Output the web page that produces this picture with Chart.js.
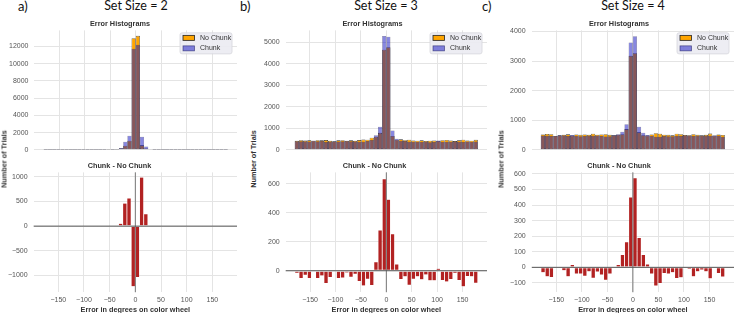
<!DOCTYPE html>
<html>
<head>
<meta charset="utf-8">
<script src="https://cdn.jsdelivr.net/npm/chart.js@4.4.0/dist/chart.umd.min.js"></script>
<style>
  body { margin: 0; width: 734px; height: 313px; position: relative; overflow: hidden; background: #fff; }
  .wrap { position: absolute; }
  .tag { position: absolute; top: -0.5px; font-family: Lato, sans-serif; font-size: 13px; line-height: 1; color: #111; }
  .head { position: absolute; top: -0.5px; font-family: Lato, sans-serif; font-size: 12.5px; line-height: 1; color: #111; transform: translateX(-50%); white-space: nowrap; }
  .ylab { position: absolute; top: 159px; font-family: "Liberation Sans", Arial, sans-serif; font-size: 7.3px; font-weight: bold; color: #333; white-space: nowrap; transform: translate(-50%, -50%) rotate(-90deg); }
</style>
</head>
<body>
<div class="wrap" id="aTop"></div><div class="wrap" id="aDiffC"></div>
<div class="wrap" id="bTop"></div><div class="wrap" id="bDiffC"></div>
<div class="wrap" id="cTop"></div><div class="wrap" id="cDiffC"></div>

<div class="tag" style="left:18px">a)</div>
<div class="tag" style="left:240px">b)</div>
<div class="tag" style="left:482px">c)</div>
<div class="head" style="left:136px">Set Size = 2</div>
<div class="head" style="left:386px">Set Size = 3</div>
<div class="head" style="left:633px">Set Size = 4</div>
<div class="ylab" style="left:4px">Number of Trials</div>
<div class="ylab" style="left:253px">Number of Trials</div>
<div class="ylab" style="left:501px">Number of Trials</div>

<script>
// bin centres of the 44 error bins (degrees)
const binCenters = [-175.91, -167.73, -159.55, -151.36, -143.18, -135.00, -126.82, -118.64, -110.45, -102.27, -94.09,
  -85.91, -77.73, -69.55, -61.36, -53.18, -45.00, -36.82, -28.64, -20.45, -12.27, -4.09,
  4.09, 12.27, 20.45, 28.64, 36.82, 45.00, 53.18, 61.36, 69.55, 77.73, 85.91,
  94.09, 102.27, 110.45, 118.64, 126.82, 135.00, 143.18, 151.36, 159.55, 167.73, 175.91];

// set size 2
const aNoChunk = [6, 5, 7, 6, 5, 8, 6, 7, 5, 6, 7, 6, 8, 7, 9, 14, 12, 20, 150, 475, 1050, 12950,
  13230, 520, 145, 25, 10, 18, 8, 7, 6, 5, 7, 6, 8, 5, 6, 7, 6, 5, 7, 6, 5, 6];
const aChunk = [4, 2, 6, 4, 2, 6, 5, 4, 3, 5, 5, 3, 6, 6, 7, 0, 9, 38, 205, 941, 1618, 11724,
  12189, 1513, 392, 52, 12, 4, 6, 6, 4, 2, 5, 5, 6, 2, 4, 6, 4, 2, 5, 5, 3, 5];
const aDiff = [-2, -3, -1, -2, -3, -2, -1, -3, -2, -1, -2, -3, -2, -1, -2, -14, -3, 18, 55, 466, 568, -1226,
  -1041, 993, 247, 27, 2, -14, -2, -1, -2, -3, -2, -1, -2, -3, -2, -1, -2, -3, -2, -1, -2, -1];

// set size 3
const bNoChunk = [415, 445, 430, 440, 425, 445, 440, 450, 415, 395, 440, 445, 425, 440, 425, 450, 475, 470, 560, 610, 790, 4650,
  4760, 640, 470, 485, 445, 470, 430, 420, 440, 410, 425, 430, 410, 445, 455, 430, 405, 440, 470, 430, 420, 465];
const bChunk = [399, 392, 400, 387, 418, 392, 405, 363, 369, 385, 387, 395, 411, 396, 402, 376, 371, 412, 459, 672, 1071, 5283,
  5252, 895, 516, 425, 404, 371, 372, 379, 378, 382, 356, 361, 426, 378, 379, 370, 389, 373, 360, 391, 379, 380];
const bDiff = [-16, -53, -30, -53, -7, -53, -35, -87, -46, -10, -53, -50, -14, -44, -23, -74, -104, -58, -101, 62, 281, 633,
  492, 255, 46, -60, -41, -99, -58, -41, -62, -28, -69, -69, 16, -67, -76, -60, -16, -67, -110, -39, -41, -85];

// set size 4
const cNoChunk = [520, 535, 530, 470, 490, 510, 525, 480, 520, 505, 520, 505, 545, 510, 520, 530, 505, 490, 510, 530, 700, 3180,
  3265, 590, 495, 480, 520, 560, 545, 510, 505, 490, 545, 530, 500, 495, 530, 505, 490, 505, 550, 480, 520, 500];
const cChunk = [486, 475, 465, 464, 490, 489, 465, 497, 477, 462, 464, 477, 476, 480, 471, 448, 462, 496, 527, 612, 863, 3631,
  3839, 781, 577, 501, 477, 440, 442, 471, 462, 456, 474, 463, 491, 484, 470, 477, 473, 477, 477, 480, 481, 438];
const cDiff = [-34, -60, -65, -6, 0, -21, -60, 17, -43, -43, -56, -28, -69, -30, -49, -82, -43, 6, 17, 82, 163, 451,
  574, 191, 82, 21, -43, -120, -103, -39, -43, -34, -71, -67, -9, -11, -60, -28, -17, -28, -73, 0, -39, -62];

// tick labels
const xTicks = [-150, -100, -50, 0, 50, 100, 150];
const aHistTicks = [0, 2000, 4000, 6000, 8000, 10000, 12000];
const bHistTicks = [0, 1000, 2000, 3000, 4000, 5000];
const cHistTicks = [0, 1000, 2000, 3000, 4000];
const aDiffTicks = [-1000, -500, 0, 500, 1000];
const bDiffTicks = [0, 200, 400, 600];
const cDiffTicks = [-100, 0, 100, 200, 300, 400, 500, 600];

Chart.defaults.font.family = '"Liberation Sans", Arial, sans-serif';
Chart.defaults.animation = false;

const fmt = v => v < 0 ? '\u2212' + Math.abs(v) : String(v);
const pts = arr => binCenters.map((x, i) => ({ x: x, y: arr[i] }));

// legend box drawn in the upper right of the plot
const boxLegend = {
  id: 'boxLegend',
  afterDraw(chart, args, o) {
    if (!o.show) return;
    const ctx = chart.ctx, a = chart.chartArea;
    const w = 52, h = 21, x = a.right - w - 5, y = a.top + 2.5;
    ctx.save();
    ctx.fillStyle = 'rgba(236,236,242,0.92)';
    ctx.strokeStyle = '#d6d6dc';
    ctx.lineWidth = 0.8;
    ctx.beginPath();
    ctx.roundRect(x, y, w, h, 2);
    ctx.fill();
    ctx.stroke();
    ctx.font = '7px "Liberation Sans", Arial, sans-serif';
    ctx.textBaseline = 'middle';
    chart.data.datasets.forEach((ds, i) => {
      const yy = y + 5 + i * 10.5;
      ctx.fillStyle = ds.backgroundColor;
      ctx.fillRect(x + 3, yy - 2.5, 11.5, 5);
      ctx.strokeStyle = i === 0 ? '#222' : 'rgba(20,20,90,0.6)';
      ctx.lineWidth = 0.8;
      ctx.strokeRect(x + 3, yy - 2.5, 11.5, 5);
      ctx.fillStyle = '#333';
      ctx.fillText(ds.label, x + 20, yy);
    });
    ctx.restore();
  }
};

// zero lines in the difference plots
const zeroLines = {
  id: 'zeroLines',
  afterDatasetsDraw(chart, args, o) {
    if (!o.show) return;
    const ctx = chart.ctx, a = chart.chartArea;
    const x0 = chart.scales.x.getPixelForValue(0);
    const y0 = chart.scales.y.getPixelForValue(0);
    ctx.save();
    ctx.lineWidth = 1;
    ctx.strokeStyle = '#777';
    ctx.beginPath(); ctx.moveTo(x0, a.top); ctx.lineTo(x0, a.bottom); ctx.stroke();
    ctx.strokeStyle = '#555';
    ctx.beginPath(); ctx.moveTo(a.left, y0); ctx.lineTo(a.right, y0); ctx.stroke();
    ctx.restore();
  }
};

function xAxis(labels) {
  return {
    type: 'linear', min: -198, max: 198, offset: false,
    grid: { color: '#e4e4e4', drawTicks: false, offset: false },
    border: { display: false },
    afterBuildTicks: s => { s.ticks = xTicks.map(v => ({ value: v })); },
    ticks: { display: labels, font: { size: 7 }, color: '#555', padding: 3.8, maxRotation: 0, autoSkip: false, callback: fmt },
    title: { display: labels, text: 'Error in degrees on color wheel', font: { size: 7.3, weight: 'bold' }, color: '#333', padding: { top: -3, bottom: 0 } }
  };
}

function yAxis(min, max, ticks) {
  return {
    min: min, max: max,
    grid: { color: '#e4e4e4', drawTicks: false },
    border: { display: false },
    afterBuildTicks: s => { s.ticks = ticks.map(v => ({ value: v })); },
    ticks: { font: { size: 7 }, color: '#555', padding: 6, callback: fmt }
  };
}

function histConfig(p) {
  return {
    type: 'bar',
    data: {
      datasets: [
        { label: 'No Chunk', data: pts(p.nc), order: 1, backgroundColor: '#ffa500', borderColor: '#2a2a2a',
          borderWidth: 0.6, borderSkipped: false, inflateAmount: 0, grouped: false, barPercentage: 1, categoryPercentage: 1 },
        { label: 'Chunk', data: pts(p.ch), order: 0, backgroundColor: 'rgba(0,0,190,0.47)', borderColor: 'rgba(25,20,70,0.6)',
          borderWidth: 0.5, borderSkipped: false, inflateAmount: 0, grouped: false, barPercentage: 1, categoryPercentage: 1 }
      ]
    },
    options: {
      responsive: false, maintainAspectRatio: false, events: [],
      layout: { padding: 0 },
      scales: { x: xAxis(false), y: yAxis(0, p.hMax, p.hTicks) },
      plugins: {
        legend: { display: false }, tooltip: { enabled: false },
        title: { display: true, text: 'Error Histograms', font: { size: 7.3, weight: 'bold' }, color: '#333', padding: { top: 0, bottom: 1.6 } },
        boxLegend: { show: true }, zeroLines: { show: false }
      }
    },
    plugins: [boxLegend, zeroLines]
  };
}

function diffConfig(p) {
  return {
    type: 'bar',
    data: {
      datasets: [
        { label: 'Chunk - No Chunk', data: pts(p.diff), backgroundColor: '#b22222', borderColor: 'rgba(255,255,255,0.55)',
          borderWidth: 0.4, borderSkipped: false, inflateAmount: 0, grouped: false, barPercentage: 1, categoryPercentage: 1 }
      ]
    },
    options: {
      responsive: false, maintainAspectRatio: false, events: [],
      layout: { padding: 0 },
      scales: { x: xAxis(true), y: yAxis(p.dMin, p.dMax, p.dTicks) },
      plugins: {
        legend: { display: false }, tooltip: { enabled: false },
        title: { display: true, text: 'Chunk - No Chunk', font: { size: 7.3, weight: 'bold' }, color: '#333', padding: { top: 0, bottom: 1.6 } },
        boxLegend: { show: false }, zeroLines: { show: true }
      }
    },
    plugins: [boxLegend, zeroLines]
  };
}

// build a chart, then move/resize its canvas so the plot area lands on the target box
function build(id, target, makeConfig) {
  const wrap = document.getElementById(id);
  let box = { l: target.l - 40, t: target.t - 15, w: Math.round(target.r - target.l + 45), h: Math.round(target.b - target.t + 40) };
  for (let pass = 0; pass < 2; pass++) {
    wrap.innerHTML = '';
    wrap.style.left = box.l + 'px';
    wrap.style.top = box.t + 'px';
    const cv = document.createElement('canvas');
    cv.width = box.w; cv.height = box.h;
    cv.style.width = box.w + 'px'; cv.style.height = box.h + 'px';
    wrap.appendChild(cv);
    const chart = new Chart(cv, makeConfig());
    if (pass === 1) return chart;
    const a = chart.chartArea;
    box = {
      l: target.l - a.left,
      t: target.t - a.top,
      w: Math.round(box.w + (target.r - target.l) - (a.right - a.left)),
      h: Math.round(box.h + (target.b - target.t) - (a.bottom - a.top))
    };
    chart.destroy();
  }
}

const panels = [
  { id: 'a', l: 34, r: 237, nc: aNoChunk, ch: aChunk, diff: aDiff, hMax: 13860, hTicks: aHistTicks, dMin: -1340, dMax: 1090, dTicks: aDiffTicks },
  { id: 'b', l: 285.5, r: 487, nc: bNoChunk, ch: bChunk, diff: bDiff, hMax: 5545, hTicks: bHistTicks, dMin: -148, dMax: 678, dTicks: bDiffTicks },
  { id: 'c', l: 532, r: 734, nc: cNoChunk, ch: cChunk, diff: cDiff, hMax: 4040, hTicks: cHistTicks, dMin: -160, dMax: 610, dTicks: cDiffTicks }
];

panels.forEach(p => {
  build(p.id + 'Top', { l: p.l, r: p.r, t: 30, b: 149 }, () => histConfig(p));
  build(p.id + 'DiffC', { l: p.l, r: p.r, t: 172, b: 292 }, () => diffConfig(p));
});
</script>
</body>
</html>
